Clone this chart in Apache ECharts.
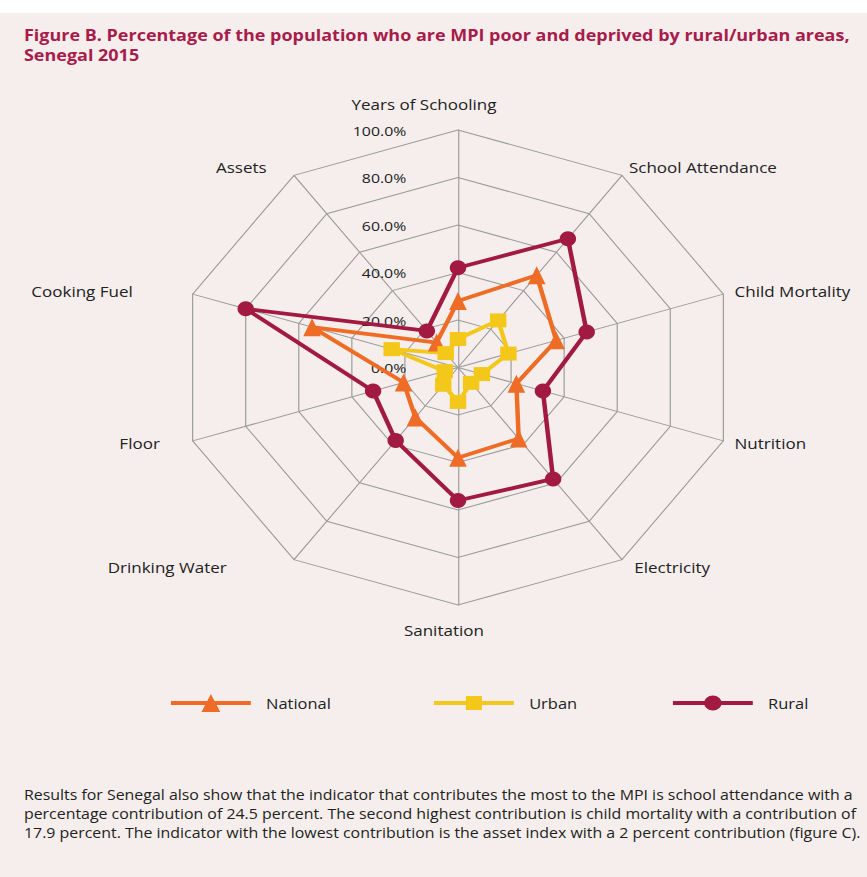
<!DOCTYPE html>
<html>
<head>
<meta charset="utf-8">
<script src="https://cdn.jsdelivr.net/npm/echarts@6/dist/echarts.min.js"></script>
<style>
html,body{margin:0;padding:0;background:#ffffff;width:867px;height:877px;overflow:hidden;}
#bg{position:absolute;left:0;top:13px;width:867px;height:864px;background:#f5eeed;}
#c{position:absolute;left:0;top:0;width:738px;height:877px;transform:scaleX(1.17480);transform-origin:0 0;}
</style>
</head>
<body>
<div id="bg"></div>
<div id="c"></div>
<script>
// ---- data (clockwise from top, as in the reference) ----
var indicators = ['Years of Schooling','School Attendance','Child Mortality','Nutrition','Electricity','Sanitation','Drinking Water','Floor','Cooking Fuel','Assets'];
var national = [28, 48, 37, 22, 37, 38, 26, 20.5, 55, 13];
var urban    = [12, 24.5, 19, 9, 8, 14.5, 9, 5, 25, 7.5];
var rural    = [42, 67, 48.5, 32, 58, 56, 38, 32, 80, 19];
var tickLabels = ['0.0%','20.0%','40.0%','60.0%','80.0%','100.0%'];
var seriesNames = ['National','Urban','Rural'];
var titleText = 'Figure B. Percentage of the population who are MPI poor and deprived by rural/urban areas,\nSenegal 2015';
var bodyText = 'Results for Senegal also show that the indicator that contributes the most to the MPI is school attendance with a\npercentage contribution of 24.5 percent. The second highest contribution is child mortality with a contribution of\n17.9 percent. The indicator with the lowest contribution is the asset index with a 2 percent contribution (figure C).';

// name offsets (padding) per indicator, same order as indicators
var namePadding = [
  [0, 58, 8, 0],    // Years of Schooling
  [0, 0, 0, 0],     // School Attendance
  [0, 0, 0, 0],     // Child Mortality
  [0, 0, 0, 0],     // Nutrition
  [0, 0, 0, 4.6],   // Electricity
  [8, 24, 0, 0],    // Sanitation
  [0, 51.4, 0, 0],  // Drinking Water
  [0, 18.4, 0, 0],  // Floor
  [0, 41.4, 0, 0],  // Cooking Fuel
  [0, 17.4, 0, 0]   // Assets
];

// ECharts radar runs counter-clockwise: reorder so the picture is clockwise
var order = [0, 9, 8, 7, 6, 5, 4, 3, 2, 1];
function reorder(arr){ return order.map(function(i){ return arr[i]; }); }

var FONT = '"Open Sans", "DejaVu Sans", sans-serif';
var colors = {National:'#ee6c25', Urban:'#f3c81a', Rural:'#a21942'};

var indicatorOpts = order.map(function(i, k){
  var o = {name: indicators[i], min: 0, max: 100,
           nameTextStyle: {padding: namePadding[i]}};
  if (k === 0) {
    o.axisLabel = {
      show: true, color: '#222', fontSize: 13.5, fontFamily: FONT, margin: 44,
      formatter: function(v){ return tickLabels[Math.round(v / 20)]; }
    };
  }
  return o;
});

var chart = echarts.init(document.getElementById('c'), null, {renderer: 'svg'});

var iconNational = 'path://M0,7L30.9,7L34,0L37.1,7L68,7L68,11L38.9,11L42,18L26,18L29.1,11L0,11Z';
var iconUrban = 'path://M0,5L27.2,5L27.2,0L40.8,0L40.8,5L68,5L68,9L40.8,9L40.8,14L27.2,14L27.2,9L0,9Z';
var iconRural = 'path://M0,5.5L68,5.5L68,9.5L0,9.5Z M26.5,7.5A7.5,7.5 0 1 1 41.5,7.5A7.5,7.5 0 1 1 26.5,7.5Z';

function legendOpt(name, icon, left, h){
  return {
    data: [{name: name, icon: icon}],
    left: left, top: 703 - h/2,
    padding: 0,
    itemWidth: 68, itemHeight: h,
    selectedMode: false,
    textStyle: {color: '#222', fontSize: 14, fontFamily: FONT, padding: [0,0,0,8]}
  };
}

var option = {
  animation: false,
  title: [
    {text: titleText, left: 20.4, top: 25, padding: 0,
     textStyle: {color: '#a81c4b', fontSize: 15.3, fontWeight: 'bold', fontFamily: FONT, lineHeight: 20}},
    {text: bodyText, left: 20.4, top: 785.5, padding: 0,
     textStyle: {color: '#231f20', fontSize: 13.55, fontWeight: 'normal', fontFamily: FONT, lineHeight: 19}}
  ],
  legend: [
    legendOpt('National', iconNational, 145.5, 18),
    legendOpt('Urban', iconUrban, 369.4, 14),
    legendOpt('Rural', iconRural, 572.8, 15)
  ],
  radar: {
    center: [389.85, 367.5],
    radius: 237.5,
    startAngle: 90,
    splitNumber: 5,
    shape: 'polygon',
    indicator: indicatorOpts,
    axisName: {color: '#222', fontSize: 14.5, fontFamily: FONT},
    nameGap: 10,
    axisLabel: {show: false},
    axisTick: {show: false},
    splitLine: {lineStyle: {color: '#9b9b9b', width: 1}},
    splitArea: {show: false},
    axisLine: {lineStyle: {color: '#9b9b9b', width: 1}}
  },
  series: [
    {type: 'radar', name: 'National', symbol: 'triangle', symbolSize: [15, 18],
     lineStyle: {color: colors.National, width: 3.8}, itemStyle: {color: colors.National},
     data: [{name: 'National', value: reorder(national)}]},
    {type: 'radar', name: 'Urban', symbol: 'rect', symbolSize: [14, 14],
     lineStyle: {color: colors.Urban, width: 3.8}, itemStyle: {color: colors.Urban},
     data: [{name: 'Urban', value: reorder(urban)}]},
    {type: 'radar', name: 'Rural', symbol: 'circle', symbolSize: [14, 15],
     lineStyle: {color: colors.Rural, width: 3.8}, itemStyle: {color: colors.Rural},
     data: [{name: 'Rural', value: reorder(rural)}]}
  ]
};
chart.setOption(option);
</script>
</body>
</html>
